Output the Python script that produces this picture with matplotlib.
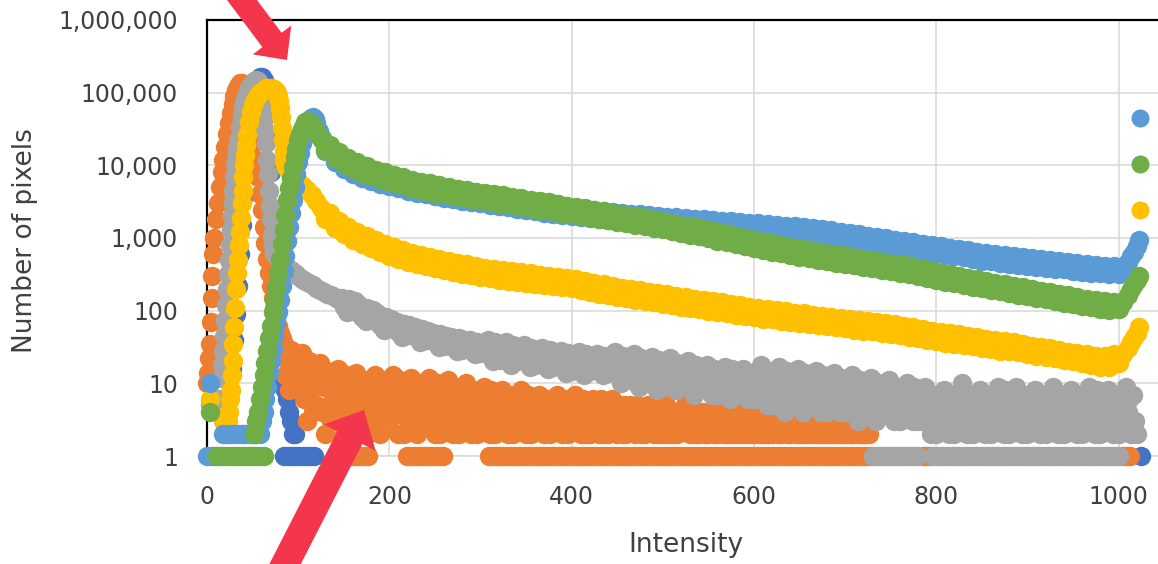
import numpy as np
import matplotlib
matplotlib.use("Agg")
import matplotlib.pyplot as plt
from matplotlib.lines import Line2D
from matplotlib.patches import FancyArrow
from matplotlib.ticker import FixedLocator, NullLocator

plt.rcParams['font.family'] = ['DejaVu Sans']

# series colours (Excel default order)
c_dblue = '#4472C4'
c_orange = '#ED7D31'
c_gray = '#A5A5A5'
c_yellow = '#FFC000'
c_lblue = '#5B9BD5'
c_green = '#70AD47'

x_ticks = [0, 200, 400, 600, 800, 1000]
y_ticks = [1, 10, 100, 1000, 10000, 100000, 1000000]
y_labels = ['1', '10', '100', '1,000', '10,000', '100,000', '1,000,000']

# ---- dark blue: (intensity, count)
dblue = [(18, 15), (21, 18), (24, 20), (27, 16), (30, 40), (32, 90), (34, 220),
         (36, 600), (38, 1500), (40, 3500), (42, 8000), (44, 17000), (46, 32000),
         (48, 55000), (50, 80000), (52, 105000), (54, 130000), (56, 150000),
         (58, 163000), (60, 165000), (62, 150000), (64, 110000), (66, 60000),
         (68, 25000), (70, 8000), (72, 2500), (74, 300), (76, 80), (78, 25),
         (80, 12), (82, 10), (84, 9), (86, 8), (88, 6), (90, 4), (92, 3), (94, 2),
         (96, 2), (85, 1), (89, 1), (93, 1), (97, 1), (101, 1), (105, 1), (109, 1),
         (113, 1), (117, 1), (1025, 1)]

# ---- orange
orange_peak = [(0, 10), (1, 14), (2, 22), (3, 35), (4, 70), (5, 150), (6, 300),
               (7, 600), (8, 1000), (10, 1800), (12, 3000), (14, 5000), (16, 8000),
               (18, 12000), (20, 18000), (22, 27000), (24, 38000), (26, 52000),
               (28, 70000), (30, 90000), (32, 110000), (34, 125000), (36, 135000),
               (38, 138000), (40, 132000), (42, 118000), (44, 98000), (46, 75000),
               (48, 52000), (50, 33000), (52, 20000), (54, 12000), (56, 7000),
               (58, 4000), (60, 2400), (62, 1400), (64, 850), (66, 520), (68, 330),
               (70, 220), (72, 150), (74, 110), (76, 80), (78, 62), (80, 50), (82, 42)]
# counts of the even bins 84..728
orange_tail = [35, 13, 21, 8, 29, 15, 9, 25, 11, 18,
               26, 6, 13, 3, 20, 8, 4, 16, 5, 10,
               19, 4, 9, 2, 15, 5, 3, 12, 3, 7,
               16, 4, 8, 2, 13, 5, 3, 10, 3, 6,
               14, 4, 7, 2, 11, 5, 2, 9, 3, 6,
               13, 4, 7, 2, 11, 5, 3, 9, 3, 6,
               13, 4, 7, 2, 11, 5, 2, 9, 3, 6,
               12, 4, 7, 2, 10, 5, 3, 9, 3, 6,
               12, 4, 7, 2, 10, 4, 2, 8, 3, 5,
               11, 3, 6, 2, 9, 4, 2, 8, 3, 5,
               10, 3, 6, 2, 8, 4, 2, 7, 3, 5,
               9, 3, 5, 2, 8, 4, 2, 7, 3, 4,
               8, 3, 5, 2, 7, 4, 2, 6, 3, 4,
               8, 3, 5, 2, 7, 4, 2, 6, 3, 4,
               7, 3, 5, 2, 6, 4, 2, 6, 3, 4,
               7, 3, 5, 2, 6, 3, 2, 5, 3, 4,
               7, 3, 4, 2, 6, 3, 2, 5, 2, 4,
               6, 3, 4, 2, 6, 3, 2, 5, 2, 4,
               6, 3, 4, 2, 5, 3, 2, 5, 2, 4,
               5, 3, 4, 2, 5, 3, 2, 4, 2, 3,
               5, 3, 4, 2, 5, 3, 2, 4, 2, 3,
               5, 2, 4, 2, 4, 3, 2, 4, 3, 3,
               5, 3, 3, 2, 4, 3, 2, 4, 2, 3,
               4, 2, 3, 2, 4, 3, 2, 4, 2, 3,
               5, 2, 3, 2, 4, 3, 2, 4, 2, 3,
               4, 2, 3, 2, 4, 3, 2, 3, 2, 3,
               4, 2, 3, 2, 4, 2, 2, 3, 2, 3,
               4, 2, 3, 2, 3, 3, 2, 4, 2, 3,
               3, 2, 3, 2, 4, 2, 2, 3, 2, 3,
               4, 2, 3, 2, 3, 2, 2, 3, 2, 2,
               3, 2, 2, 2, 3, 2, 2, 3, 2, 2,
               3, 2, 2, 2, 3, 2, 2, 2, 2, 2,
               2, 2, 3]
# odd bins with a count of 1
orange_ones = list(range(157, 178, 4)) + list(range(219, 260, 4)) + \
    list(range(309, 732, 4)) + [785, 789, 793, 1005, 1009, 1013]

# ---- gray
gray_peak = [(3, 5), (14, 6), (16, 12), (17, 18), (18, 28), (19, 45), (20, 75),
             (21, 120), (22, 200), (23, 320), (24, 500), (25, 800), (26, 1300),
             (27, 2000), (28, 3000), (29, 4500), (30, 7000), (31, 10000),
             (32, 13000), (33, 17000), (34, 22000), (36, 34000), (38, 48000),
             (40, 65000), (42, 82000), (44, 100000), (46, 115000), (48, 128000),
             (50, 138000), (52, 145000), (54, 148000), (56, 145000), (58, 130000),
             (60, 100000), (61, 80000), (62, 60000), (63, 43000), (64, 30000),
             (65, 20000), (66, 12000), (67, 7500), (68, 4500), (69, 2800),
             (70, 1800), (71, 1100), (72, 800), (74, 620), (76, 560), (80, 520),
             (84, 450), (88, 400), (92, 360), (96, 330), (100, 300), (104, 275),
             (108, 255), (112, 238), (116, 222), (120, 208), (124, 195), (128, 183),
             (132, 172), (136, 162), (140, 152), (144, 143)]
# counts of the even bins 148..1020
gray_tail = [151, 111, 130, 95, 144, 117, 100, 136, 106, 123,
             113, 83, 97, 71, 108, 88, 75, 102, 79, 92,
             86, 63, 73, 54, 81, 66, 57, 77, 60, 70,
             69, 51, 59, 44, 66, 54, 46, 63, 48, 56,
             59, 44, 51, 37, 56, 46, 39, 53, 41, 48,
             50, 37, 43, 32, 48, 39, 33, 45, 35, 41,
             44, 32, 38, 28, 42, 34, 29, 40, 31, 36,
             39, 29, 33, 25, 37, 30, 26, 35, 27, 32,
             40, 25, 31, 20, 37, 27, 21, 34, 23, 29,
             37, 23, 29, 18, 34, 25, 20, 32, 21, 27,
             34, 21, 27, 17, 31, 23, 18, 29, 20, 25,
             31, 20, 25, 16, 29, 21, 17, 27, 18, 23,
             28, 18, 22, 14, 26, 19, 15, 24, 17, 21,
             27, 17, 21, 13, 25, 18, 15, 23, 16, 20,
             25, 16, 20, 13, 24, 17, 14, 22, 15, 19,
             27, 14, 20, 10, 24, 16, 11, 22, 12, 17,
             25, 13, 18, 9, 22, 14, 10, 20, 11, 16,
             23, 12, 17, 8, 21, 13, 9, 19, 11, 15,
             22, 11, 15, 8, 19, 12, 9, 17, 10, 14,
             20, 10, 14, 7, 18, 11, 8, 16, 9, 13,
             18, 9, 13, 7, 16, 10, 7, 15, 8, 12,
             17, 9, 12, 6, 16, 10, 7, 14, 8, 11,
             16, 8, 11, 6, 14, 9, 6, 13, 7, 10,
             18, 7, 11, 5, 15, 8, 5, 13, 6, 10,
             17, 7, 11, 4, 15, 8, 5, 12, 6, 9,
             16, 6, 10, 4, 14, 7, 5, 12, 5, 9,
             15, 6, 9, 4, 13, 7, 4, 11, 5, 8,
             14, 6, 9, 4, 12, 6, 4, 10, 5, 8,
             13, 5, 8, 3, 11, 6, 4, 10, 4, 7,
             12, 5, 8, 3, 10, 6, 4, 9, 4, 6,
             11, 4, 7, 3, 9, 5, 3, 8, 4, 6,
             10, 4, 6, 3, 9, 5, 3, 7, 3, 5,
             9, 3, 5, 2, 7, 4, 2, 6, 3, 5,
             8, 3, 6, 2, 7, 4, 2, 5, 3, 4,
             10, 3, 5, 2, 7, 4, 2, 6, 3, 5,
             8, 4, 6, 2, 7, 3, 2, 5, 3, 4,
             9, 3, 5, 2, 8, 4, 2, 6, 3, 5,
             9, 4, 6, 2, 7, 3, 2, 5, 3, 4,
             8, 3, 5, 2, 7, 4, 2, 6, 3, 5,
             9, 3, 6, 2, 7, 4, 2, 5, 3, 4,
             8, 4, 5, 2, 7, 3, 2, 6, 3, 5,
             9, 3, 6, 2, 8, 4, 2, 5, 3, 4,
             8, 3, 5, 2, 7, 4, 2, 6, 3, 5,
             9, 4, 6, 2, 7, 3, 2]
gray_ones = list(range(731, 782, 4)) + list(range(797, 1002, 4))

# ---- yellow
yellow_peak = [(3, 6), (18, 3), (20, 2), (22, 2), (23, 3), (24, 4), (25, 6), (26, 8),
               (27, 13), (28, 20), (29, 35), (30, 60), (31, 110), (32, 200),
               (33, 330), (34, 500), (35, 800), (36, 1200), (37, 1900), (38, 3000),
               (39, 4500), (40, 7000), (41, 10000), (42, 14000), (43, 19000),
               (44, 26000), (46, 40000), (48, 55000), (50, 68000), (53, 80000),
               (56, 92000), (59, 102000), (62, 110000), (65, 115000), (68, 117000),
               (71, 116000), (74, 112000), (76, 105000), (77, 100000), (78, 90000),
               (79, 78000), (80, 62000), (81, 46000), (82, 33000), (83, 23000),
               (84, 16000), (85, 12000), (86, 10000), (88, 9000), (92, 7500),
               (96, 6700), (100, 6000), (105, 5200), (110, 4600), (115, 3900),
               (120, 3200), (125, 2600)]
# bins 130, 140 ... 1000
yellow_tail = [1800, 1380, 1120, 950, 825, 720, 640, 570, 515, 470, 440, 410, 385,
               360, 340, 322, 310, 292, 280, 268, 258, 250, 240, 232, 225, 218, 212,
               205, 193, 182, 172, 163, 155, 148, 142, 136, 130, 125, 120, 114, 109,
               105, 100, 96, 92, 88, 84, 81, 78, 76, 73, 70, 68, 65, 63, 61, 59, 57,
               55, 53, 52, 50, 48, 46, 44, 42, 40, 38, 36, 35, 34, 33, 31, 30, 28, 28,
               27, 25, 24, 23, 22, 21, 20, 19, 18, 17, 17, 19]
# bins 135, 145 ... 995
yellow_mid = [2180, 1710, 1420, 1215, 1060, 930, 826, 745, 680, 625, 580, 543, 510,
              480, 455, 433, 413, 392, 374, 360, 348, 336, 325, 314, 304, 295, 286,
              273, 257, 243, 230, 218, 208, 198, 190, 182, 175, 168, 160, 153, 146,
              142, 136, 130, 124, 118, 113, 109, 106, 101, 99, 94, 92, 87, 85, 83,
              80, 77, 74, 72, 70, 67, 65, 61, 59, 56, 53, 51, 49, 47, 45, 44, 41,
              40, 38, 37, 35, 33, 32, 31, 29, 27, 26, 25, 24, 24, 25]
yellow_end = [(1005, 25), (1010, 31), (1014, 37), (1017, 43), (1020, 50), (1023, 60)]

# ---- light blue
lblue_peak = [(0, 1), (3, 10), (6, 1), (9, 1), (18, 2), (22, 2), (26, 2), (30, 2),
              (34, 2), (38, 2), (42, 2), (46, 2), (50, 2), (54, 2), (58, 2), (60, 3),
              (62, 4), (64, 6), (66, 9), (68, 14), (70, 20), (72, 30), (74, 45),
              (76, 65), (78, 95), (80, 140), (82, 220), (84, 350), (86, 560),
              (88, 900), (90, 1400), (92, 2200), (94, 3300), (96, 5000), (98, 7500),
              (100, 11000), (102, 15000), (104, 20000), (106, 25000), (108, 30000),
              (110, 36000), (112, 41000), (114, 45000), (116, 46000), (118, 43000),
              (120, 38000), (123, 30000), (126, 24000)]
lblue_tail = [15840, 11000, 8800, 7570, 6690, 6070, 5540, 5150, 4800, 4490, 4210,
              3980, 3770, 3590, 3410, 3260, 3120, 2990, 2860, 2750, 2640, 2530, 2420,
              2330, 2240, 2160, 2070, 2010, 1940, 1880, 1830, 1790, 1740, 1700, 1650,
              1610, 1580, 1540, 1500, 1470, 1440, 1410, 1380, 1350, 1320, 1290, 1270,
              1240, 1210, 1180, 1150, 1130, 1100, 1060, 1030, 990, 960, 920, 890, 850,
              820, 780, 750, 720, 690, 660, 630, 610, 580, 560, 540, 510, 490, 475,
              460, 440, 425, 415, 400, 390, 380, 370, 355, 345, 335, 325, 320, 320]
lblue_mid = [17400, 12800, 10600, 9230, 8270, 7520, 6930, 6440, 6010, 5630, 5300,
             5020, 4770, 4540, 4330, 4140, 3960, 3790, 3630, 3490, 3350, 3200, 3080,
             2960, 2850, 2740, 2640, 2550, 2470, 2410, 2340, 2290, 2230, 2170, 2110,
             2060, 2020, 1970, 1930, 1890, 1850, 1810, 1770, 1730, 1690, 1660, 1620,
             1590, 1550, 1510, 1480, 1440, 1400, 1360, 1310, 1270, 1220, 1170, 1130,
             1080, 1040, 990, 950, 910, 870, 840, 800, 770, 740, 710, 680, 650, 630,
             600, 580, 560, 545, 530, 510, 500, 485, 470, 455, 440, 430, 415, 415]
lblue_end = [(1005, 400), (1010, 470), (1014, 560), (1017, 650), (1020, 780),
             (1023, 950)]

# ---- green
green_peak = [(3, 4), (11, 1), (15, 1), (19, 1), (23, 1), (27, 1), (31, 1), (35, 1),
              (39, 1), (43, 1), (47, 1), (51, 1), (55, 1), (59, 1), (63, 1),
              (52, 2), (54, 3), (56, 4), (58, 6), (60, 9), (62, 13), (64, 19),
              (66, 28), (68, 42), (70, 62), (72, 95), (74, 140), (76, 210),
              (78, 330), (80, 520), (82, 820), (84, 1300), (86, 2100), (88, 3300),
              (90, 4800), (92, 6800), (94, 9500), (96, 13000), (98, 17000),
              (100, 22000), (102, 27000), (104, 32000), (106, 36000), (108, 39000),
              (110, 40500), (112, 40000), (114, 38000), (116, 35000), (118, 32000),
              (120, 29000), (123, 25000), (126, 22000)]
green_tail = [16300, 12760, 10560, 8980, 7920, 7040, 6420, 5900, 5460, 5100, 4750,
              4490, 4220, 4000, 3780, 3610, 3430, 3300, 3170, 3040, 2900, 2770, 2640,
              2530, 2430, 2320, 2220, 2110, 2020, 1940, 1850, 1760, 1680, 1600, 1520,
              1450, 1380, 1320, 1250, 1180, 1110, 1050, 990, 920, 870, 820, 770, 720,
              690, 650, 620, 585, 555, 530, 500, 480, 460, 435, 420, 400, 385, 365,
              350, 335, 315, 300, 280, 265, 250, 240, 225, 215, 205, 195, 185, 175,
              165, 157, 150, 143, 136, 128, 122, 116, 111, 106, 102, 104]
green_mid = [18800, 15100, 12650, 10940, 9690, 8720, 7980, 7350, 6840, 6380, 5990,
             5640, 5330, 5040, 4790, 4560, 4360, 4190, 4020, 3850, 3680, 3510, 3350,
             3210, 3080, 2940, 2800, 2680, 2570, 2450, 2340, 2230, 2130, 2020, 1930,
             1840, 1750, 1660, 1570, 1480, 1400, 1320, 1240, 1160, 1090, 1030, 960,
             910, 870, 820, 780, 740, 700, 670, 635, 605, 580, 550, 530, 505, 485,
             460, 440, 420, 400, 375, 355, 335, 315, 300, 285, 270, 258, 244, 231,
             220, 209, 198, 189, 180, 171, 163, 155, 147, 141, 135, 133]
green_end = [(1005, 130), (1010, 165), (1014, 200), (1017, 230), (1020, 265),
             (1023, 300)]


def pairs(p):
    a = np.array(p, dtype=float)
    return a[:, 0], a[:, 1]


def every(start, step, counts):
    counts = np.array(counts, dtype=float)
    return start + step * np.arange(len(counts)), counts


def join(*parts):
    xs = np.concatenate([p[0] for p in parts])
    ys = np.concatenate([p[1] for p in parts])
    return xs, ys


def ones(bins):
    return np.array(bins, dtype=float), np.ones(len(bins))


series = [
    (c_dblue, join(pairs(dblue))),
    (c_orange, join(pairs(orange_peak), every(84, 2, orange_tail), ones(orange_ones))),
    (c_gray, join(pairs(gray_peak), every(148, 2, gray_tail), ones(gray_ones))),
    (c_yellow, join(pairs(yellow_peak), every(130, 10, yellow_tail),
                    every(135, 10, yellow_mid), pairs(yellow_end))),
    (c_lblue, join(pairs(lblue_peak), every(130, 10, lblue_tail),
                   every(135, 10, lblue_mid), pairs(lblue_end))),
    (c_green, join(pairs(green_peak), every(130, 10, green_tail),
                   every(135, 10, green_mid), pairs(green_end))),
]

fig = plt.figure(figsize=(11.58, 5.64), dpi=100)
ax = fig.add_axes([207 / 1158, 108 / 564, 958 / 1158, 436 / 564])

for col, (xs, ys) in series:
    ax.scatter(xs, ys, s=195, color=col, linewidths=0, clip_on=False, zorder=3)

ax.set_yscale('log')
ax.set_ylim(1, 1e6)
ax.set_xlim(0, 1051)
ax.yaxis.set_major_locator(FixedLocator(y_ticks))
ax.yaxis.set_minor_locator(NullLocator())
ax.set_yticklabels(y_labels)
ax.set_xticks(x_ticks)
ax.grid(True, color='#D9D9D9', lw=1.1)
ax.set_axisbelow(True)
ax.tick_params(length=0, pad=21, labelsize=17, colors='#404040')

for side in ['top', 'left']:
    ax.spines[side].set_color('black')
    ax.spines[side].set_linewidth(1.6)
ax.spines['bottom'].set_color('#D9D9D9')
ax.spines['bottom'].set_linewidth(1.1)
ax.spines['right'].set_visible(False)

ax.set_xlabel('Intensity', fontsize=19, color='#404040')
ax.set_ylabel('Number of pixels', fontsize=19, color='#404040')
ax.xaxis.set_label_coords(0.5, -0.204)
ax.xaxis.label.set_va('center')
ax.yaxis.set_label_coords(-0.19, 0.495)
ax.yaxis.label.set_va('center')

# legend, mostly cut off at the right edge
handles = [Line2D([], [], marker='o', ls='', color=c, ms=13, mew=0)
           for c in [c_lblue, c_green, c_yellow]]
fig.legend(handles, [' '] * 3, loc='upper left', bbox_to_anchor=(0.9755, 0.807),
           frameon=False, borderaxespad=0, borderpad=0, handlelength=1.0,
           handletextpad=0.5, labelspacing=1.27, fontsize=15)


def arrow(tail, tip, shaft, head_w, head_l):
    # image pixel coords, origin top left
    x0, y0 = tail[0] / 100, (564 - tail[1]) / 100
    x1, y1 = tip[0] / 100, (564 - tip[1]) / 100
    fig.add_artist(FancyArrow(x0, y0, x1 - x0, y1 - y0, width=shaft / 100,
                              head_width=head_w / 100, head_length=head_l / 100,
                              length_includes_head=True, transform=fig.dpi_scale_trans,
                              color='#F4364C', lw=0, zorder=10))


arrow((236, -8), (287, 60), 24, 48, 25)
arrow((281, 572), (364, 410), 28, 58, 31)

fig.savefig('out.png', dpi=100)
